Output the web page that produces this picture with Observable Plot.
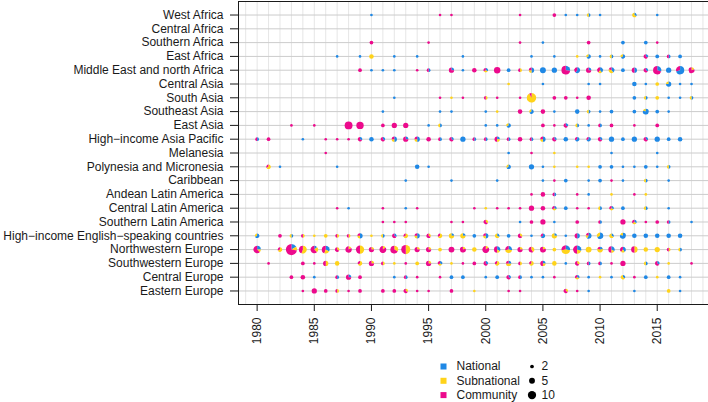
<!DOCTYPE html>
<html><head><meta charset="utf-8">
<script src="https://cdn.jsdelivr.net/npm/d3@7"></script>
<script src="https://cdn.jsdelivr.net/npm/@observablehq/plot@0.6"></script>
<style>
html,body{margin:0;padding:0;background:#fff;overflow:hidden;font-family:"Liberation Sans",Arial,sans-serif}
svg{display:block;max-width:none !important}
</style>
</head><body><div id="chart"></div><div id="legend"></div>
<script>
// ---- categories ----
const regions = ["West Africa","Central Africa","Southern Africa","East Africa","Middle East and north Africa","Central Asia","South Asia","Southeast Asia","East Asia","High\u2212income Asia Pacific","Melanesia","Polynesia and Micronesia","Caribbean","Andean Latin America","Central Latin America","Southern Latin America","High\u2212income English\u2212speaking countries","Northwestern Europe","Southwestern Europe","Central Europe","Eastern Europe"];
const types = ["National","Subnational","Community"];
const typeColors = ["#1f88e5","#ffd31a","#ec0a8c"];
const xTicks = [1980,1985,1990,1995,2000,2005,2010,2015];
const sizeLegend = [2,5,10];

// ---- observations per region: [year, national, subnational, community] ----
const westAfrica = [[1990,1,0,0],[1996,0,0,1],[1997,0,0,1],[2003,0,0,1],[2006,0,0,2],[2007,1,0,0],[2008,1,0,0],[2009,1,1,0],[2010,1,0,0],[2013,1,2,0],[2015,1,0,0]];
const centralAfrica = [];
const southernAfrica = [[1990,0,0,2],[1995,0,0,1],[2003,0,0,1],[2005,1,0,0],[2009,0,0,2],[2012,2,0,0],[2014,2,0,0],[2015,0,0,1]];
const eastAfrica = [[1987,1,0,0],[1989,1,0,0],[1990,0,3,0],[1992,1,0,0],[1994,1,0,0],[1998,1,0,0],[2004,1,0,0],[2006,1,0,0],[2008,0,1,0],[2009,2,1,0],[2010,1,0,0],[2011,1,1,0],[2012,2,1,0],[2014,1,0,2],[2015,2,0,0],[2016,1,0,1],[2017,2,0,0]];
const menaAfrica = [[1989,0,0,2],[1990,1,0,0],[1991,1,0,0],[1992,1,0,0],[1994,0,0,1],[1995,1,0,1],[1997,1,0,3],[1998,1,0,0],[1999,0,0,3],[2000,1,1,1],[2001,0,0,6],[2002,2,0,0],[2003,0,1,1],[2004,2,1,1],[2005,5,0,0],[2006,4,0,0],[2007,3,0,8],[2008,3,0,2],[2009,1,0,3],[2010,2,1,2],[2011,2,2,1],[2012,2,0,0],[2013,2,0,2],[2014,1,0,2],[2015,3,0,7],[2016,4,0,0],[2017,7,0,3],[2018,0,1,4]];
const centralAsia = [[2002,0,1,0],[2005,1,0,0],[2009,1,0,0],[2010,1,0,0],[2013,3,0,0],[2014,1,0,0],[2015,0,2,0],[2016,3,1,0],[2017,1,0,0],[2018,1,0,0]];
const southAsia = [[1992,1,0,0],[1996,0,0,1],[1997,0,1,0],[1998,0,0,1],[2000,0,1,1],[2001,0,0,1],[2003,0,0,1],[2004,0,12,1],[2006,0,0,2],[2007,0,0,2],[2008,0,0,1],[2009,0,0,3],[2013,2,0,0],[2014,1,1,0],[2015,0,2,0],[2016,1,0,0],[2017,1,0,0],[2018,1,1,0]];
const southeastAsia = [[1991,1,0,0],[1996,1,0,0],[1997,1,0,0],[2000,1,0,0],[2001,0,1,0],[2003,0,0,3],[2004,2,1,0],[2005,0,0,3],[2006,1,0,0],[2008,3,0,0],[2009,1,1,0],[2010,1,0,0],[2011,2,0,0],[2013,2,0,0],[2014,4,1,0],[2015,2,0,0],[2016,1,0,0]];
const eastAsia = [[1983,0,0,1],[1985,0,0,1],[1988,0,0,9],[1989,0,0,8],[1991,0,0,2],[1992,0,0,4],[1993,0,0,4],[1995,1,0,0],[1996,1,1,0],[2000,1,0,0],[2001,1,0,0],[2002,2,1,0],[2005,0,0,2],[2006,0,0,1],[2007,1,0,2],[2008,1,1,0],[2009,1,0,0],[2010,1,0,1],[2011,0,0,2],[2013,0,0,1],[2015,0,0,2]];
const hiAsiaPacific = [[1980,1,0,1],[1981,0,0,2],[1984,1,0,0],[1986,0,0,1],[1987,0,0,1],[1988,0,0,1],[1989,1,0,2],[1990,3,0,0],[1991,1,0,2],[1992,2,1,1],[1993,1,0,3],[1994,2,1,1],[1995,0,0,3],[1996,1,0,1],[1997,1,0,2],[1998,4,0,0],[1999,1,0,1],[2000,1,0,1],[2001,1,1,2],[2002,1,0,1],[2003,0,0,3],[2004,1,0,1],[2005,2,1,1],[2006,1,0,2],[2007,3,0,0],[2008,2,0,1],[2009,2,0,1],[2010,1,0,2],[2011,4,0,0],[2012,2,0,0],[2013,4,0,0],[2014,1,0,2],[2015,4,0,0],[2016,2,0,0],[2017,3,0,0]];
const melanesia = [[1986,0,0,1],[2002,1,0,0],[2004,0,0,1],[2006,0,1,0],[2011,1,0,0],[2015,1,0,0]];
const polynesia = [[1981,0,2,1],[1982,1,0,0],[1987,1,0,0],[1994,3,0,0],[1995,1,0,0],[2002,2,1,0],[2004,4,0,0],[2005,1,0,0],[2006,0,1,0],[2008,0,1,0],[2009,0,1,0],[2010,2,0,0],[2011,2,0,0],[2012,1,0,0],[2013,1,0,0],[2014,2,0,0],[2015,1,0,0],[2016,1,1,0]];
const caribbean = [[1993,1,0,0],[1997,1,0,0],[2001,1,0,0],[2005,1,0,0],[2006,0,0,1],[2007,2,0,0],[2009,1,0,0],[2010,2,0,0],[2011,0,0,1],[2012,1,0,0],[2014,1,1,0],[2016,1,0,0]];
const andeanLA = [[2004,0,0,1],[2005,0,0,3],[2006,1,0,1],[2008,0,0,1],[2009,1,0,0],[2011,0,1,0],[2013,0,0,1],[2014,0,1,0]];
const centralLA = [[1987,0,0,1],[1988,1,0,0],[1991,0,0,1],[1993,1,0,0],[1994,0,0,1],[1999,0,0,1],[2000,0,1,0],[2001,0,0,1],[2002,0,0,1],[2003,0,0,1],[2004,0,0,4],[2005,0,0,3],[2006,1,1,1],[2007,2,0,0],[2008,0,0,1],[2009,0,0,1],[2010,1,1,0],[2011,1,1,1],[2012,2,0,0],[2014,1,1,0],[2016,1,0,0]];
const southernLA = [[1991,0,0,1],[1992,0,0,1],[1993,0,0,1],[1997,0,0,1],[1998,0,0,1],[2000,0,1,2],[2003,1,0,0],[2004,0,0,2],[2005,0,0,4],[2006,1,0,0],[2008,0,0,2],[2010,1,0,1],[2012,0,0,4],[2013,1,1,1],[2014,0,0,1],[2015,0,0,2],[2016,1,0,1],[2018,1,0,0]];
const hiEnglish = [[1980,2,1,0],[1982,0,0,2],[1983,1,1,0],[1984,0,1,1],[1985,0,1,0],[1986,0,2,0],[1987,0,1,1],[1988,0,1,1],[1989,2,1,1],[1990,0,1,0],[1991,1,1,0],[1992,1,0,2],[1993,0,2,1],[1994,2,1,1],[1995,0,1,2],[1996,0,2,1],[1997,1,3,0],[1998,1,3,0],[1999,2,0,0],[2000,2,1,1],[2001,1,2,0],[2002,2,0,0],[2003,0,1,2],[2004,1,0,0],[2005,2,0,1],[2006,1,3,0],[2007,1,0,0],[2008,2,0,2],[2009,3,1,1],[2010,4,2,0],[2011,1,2,0],[2012,4,1,0],[2013,3,0,0],[2014,3,0,0],[2015,3,0,0],[2016,3,0,0],[2017,3,0,0]];
const nwEurope = [[1980,2,1,5],[1982,0,2,1],[1983,3,2,13],[1984,0,5,4],[1985,1,2,5],[1986,3,2,4],[1987,0,1,2],[1988,0,1,5],[1989,0,5,5],[1990,0,1,3],[1991,0,1,6],[1992,0,3,6],[1993,0,6,6],[1994,0,1,3],[1995,0,1,3],[1996,0,2,0],[1997,0,0,5],[1998,0,1,4],[1999,0,3,0],[2000,0,1,6],[2001,2,1,3],[2002,2,3,2],[2003,0,1,3],[2004,0,2,3],[2005,0,1,4],[2006,0,2,0],[2007,3,5,3],[2008,3,2,5],[2009,0,5,0],[2010,1,3,1],[2011,2,1,3],[2012,2,1,2],[2013,0,3,3],[2014,0,3,0],[2015,0,4,0],[2016,0,1,1],[2017,1,1,0]];
const swEurope = [[1981,0,0,1],[1984,0,0,2],[1985,0,0,1],[1986,0,2,2],[1987,0,3,0],[1989,0,2,1],[1990,0,1,3],[1991,0,1,1],[1992,0,1,0],[1993,0,0,1],[1994,0,2,0],[1995,0,1,3],[1996,1,1,1],[1997,0,1,0],[1998,0,0,1],[1999,0,0,2],[2000,1,0,2],[2001,0,2,1],[2002,1,2,1],[2003,0,1,1],[2004,0,2,1],[2005,1,1,2],[2006,0,3,0],[2007,1,0,0],[2008,0,1,2],[2009,1,0,1],[2010,1,0,1],[2011,0,0,1],[2012,0,0,4],[2014,1,1,0],[2015,1,0,2],[2016,0,1,0],[2018,0,0,1]];
const centralEurope = [[1983,0,0,2],[1984,0,0,3],[1985,1,0,0],[1987,1,0,1],[1988,1,0,3],[1989,0,0,2],[1992,1,0,0],[1993,1,0,1],[1994,0,0,1],[1996,0,0,1],[1997,2,0,0],[1998,2,0,0],[2000,1,0,0],[2001,2,0,0],[2002,1,0,2],[2003,1,0,1],[2004,1,0,0],[2005,1,0,0],[2006,0,0,1],[2008,1,1,1],[2009,1,0,0],[2010,0,1,0],[2011,1,0,0],[2012,1,2,0],[2013,0,0,1],[2014,2,0,0],[2015,0,1,0],[2016,2,0,0],[2017,1,0,0]];
const easternEurope = [[1984,0,0,1],[1985,0,0,4],[1986,0,0,2],[1987,0,1,1],[1988,0,0,1],[1989,0,0,2],[1991,0,0,2],[1992,0,0,2],[1993,0,1,2],[1994,0,0,1],[1995,0,0,1],[1997,0,0,2],[1999,0,1,0],[2002,0,0,1],[2003,0,0,1],[2007,0,1,2],[2008,0,0,1],[2009,1,0,0],[2013,1,0,0],[2016,0,2,0],[2017,1,0,0]];

const regionData = [westAfrica, centralAfrica, southernAfrica, eastAfrica, menaAfrica, centralAsia, southAsia, southeastAsia, eastAsia, hiAsiaPacific, melanesia, polynesia, caribbean, andeanLA, centralLA, southernLA, hiEnglish, nwEurope, swEurope, centralEurope, easternEurope];

// ---- build pie wedges ----
const records = regions.flatMap((region, i) => regionData[i].map(([year, N, S, C]) => ({region, year, counts: [N, S, C], n: N + S + C})));
const wedges = [];
for (const r of records) {
  let cum = 0;
  r.counts.forEach((c, k) => {
    if (c > 0) {
      wedges.push({region: r.region, year: r.year, n: r.n, type: types[k], start: cum / r.n, frac: c / r.n});
      cum += c;
    }
  });
}
const groups = d3.groups(wedges, d => Math.round(d.frac * 1e4) / 1e4);

function wedgeShape(frac) {
  return {
    draw(ctx, l) {
      if (frac >= 0.9999) { ctx.moveTo(l, 0); ctx.arc(0, 0, l, 0, 2 * Math.PI); ctx.closePath(); return; }
      ctx.moveTo(0, 0);
      ctx.lineTo(0, -l);
      ctx.arc(0, 0, l, -Math.PI / 2, -Math.PI / 2 + frac * 2 * Math.PI);
      ctx.closePath();
    }
  };
}

const gridYears = d3.range(1979, 2020);
const fontStyle = {fontFamily: "'Liberation Sans', Arial, sans-serif", fontSize: "12px", color: "#1a1a1a", background: "white"};
const lengthScale = {type: "sqrt", domain: [0, 10], range: [0, 4.15]};

const chart = Plot.plot({
  width: 712, height: 345,
  marginLeft: 238, marginRight: 2, marginTop: 1, marginBottom: 41,
  style: fontStyle,
  x: {domain: [1978.37, 2019.66]},
  y: {type: "point", domain: regions, padding: 0.98, round: false},
  color: {domain: types, range: typeColors},
  length: lengthScale,
  marks: [
    Plot.ruleX(gridYears, {stroke: "#e6e6e6"}),
    Plot.ruleY(regions, {stroke: "#cccccc"}),
    Plot.frame({stroke: "#1a1a1a"}),
    Plot.axisY({tickSize: 8, tickPadding: 7, label: null}),
    Plot.axisX({ticks: xTicks, tickFormat: d => String(d), tickRotate: -90, tickSize: 7, tickPadding: 6, label: null}),
    ...groups.map(([frac, data]) => Plot.vector(data, {
      x: "year", y: "region", length: "n", rotate: d => d.start * 360,
      anchor: "start", fill: "type", stroke: "none", shape: wedgeShape(frac)
    }))
  ]
});
document.getElementById("chart").appendChild(chart);

// ---- legend ----
const legendX = {swatch: 443, label: 456, dot: 531.5, value: 541};
const legendRowY = (d, i) => 21 + 14.3 * i;
const legend = Plot.plot({
  width: 708, height: 57, margin: 0,
  style: fontStyle,
  x: {type: "identity", axis: null}, y: {type: "identity", axis: null},
  color: {domain: types, range: typeColors},
  length: lengthScale,
  marks: [
    Plot.dot(types, {x: legendX.swatch, y: legendRowY, symbol: "square", r: 3.4, fill: d => d, stroke: "none"}),
    Plot.text(types, {x: legendX.label, y: legendRowY, text: d => d, textAnchor: "start", fontSize: 12}),
    Plot.vector(sizeLegend, {x: legendX.dot, y: legendRowY, length: d => d, anchor: "start", fill: "#000", stroke: "none", shape: wedgeShape(1)}),
    Plot.text(sizeLegend, {x: legendX.value, y: legendRowY, text: d => String(d), textAnchor: "start", fontSize: 12})
  ]
});
document.getElementById("legend").appendChild(legend);
</script>
</body></html>
